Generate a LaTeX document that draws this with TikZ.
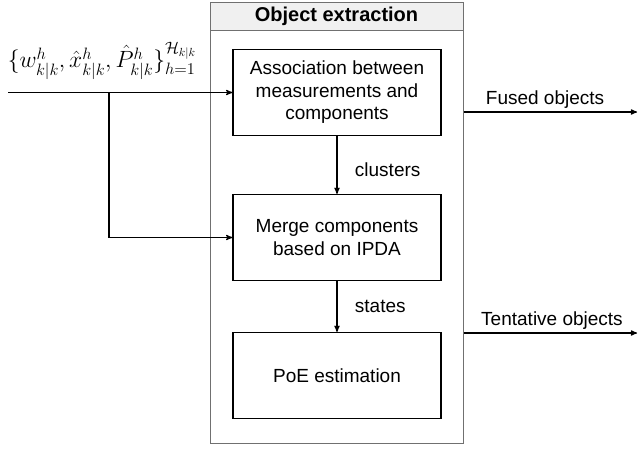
\documentclass[tikz,border=0pt]{standalone}
\usepackage{fix-cm}
\usepackage{amsmath, amssymb}
\usepackage{fontspec}
\setmainfont{Liberation Sans}
\usetikzlibrary{shapes,arrows}
\definecolor{framegray}{HTML}{707070}
\definecolor{headgray}{HTML}{F0F0F0}

\begin{document}
\begin{tikzpicture}[x=1pt,y=-1pt,node distance=145pt,font=\fontsize{19}{22.5}\selectfont]
    \tikzstyle{block}=[rectangle,draw,line width=1.2pt,minimum width=208pt,minimum height=86pt,align=center]
    \tikzstyle{line}=[draw,line width=1.2pt,-stealth']

    \useasboundingbox (0,0) rectangle (639,448);

    % outer frame with title bar
    \node(frame) [draw=framegray,line width=1pt,minimum width=253pt,minimum height=441pt] at (336.5,222.5) {};
    \node(head)  [draw=framegray,fill=headgray,line width=1pt,minimum width=253pt,minimum height=28pt,anchor=north,font=\fontsize{20}{24}\selectfont\bfseries] at (frame.north) {Object extraction};

    % processing steps
    \node(assoc) [block] at (337,92.5) {Association between\\measurements and\\components};
    \node(merge) [block,below of=assoc] {Merge components\\based on IPDA};
    \node(poe)   [block,below of=merge,yshift=7pt] {PoE estimation};

    \node(input) [font=\fontsize{23.5}{28}\selectfont] at (102,61) {$\{w^h_{k|k},\hat{x}^h_{k|k},\hat{P}^h_{k|k}\}^{\mathcal{H}_{k|k}}_{h=1}$};
    \coordinate(start) at (8,92.5);
    \coordinate(split) at (109,92.5);
    \coordinate(fused) at (637,112);
    \coordinate(tent)  at (637,333);

    \draw [line] (start) -- (assoc);
    \draw [line] (split) |- (merge);
    \draw [line] (assoc) -- node[right=14pt,yshift=-5pt] {clusters} (merge);
    \draw [line] (merge) -- node[right=14pt] {states} (poe);
    \draw [line] (frame.east |- fused) -- node[above,pos=0.47] {Fused objects} (fused);
    \draw [line] (frame.east |- tent) -- node[above,pos=0.51] {Tentative objects} (tent);

\end{tikzpicture}
\end{document}
